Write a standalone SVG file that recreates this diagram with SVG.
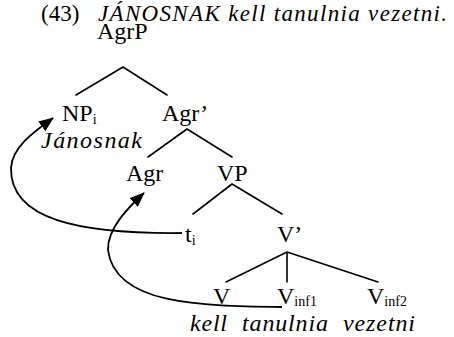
<svg xmlns="http://www.w3.org/2000/svg" width="454" height="337" viewBox="0 0 454 337">
<style>
.t{font-family:"Liberation Serif","Times New Roman",serif;font-size:24px;fill:#000}
.ttl{font-size:23px}
.it{font-style:italic}
.sub{font-size:14px}
.br{stroke:#000;stroke-width:1.6;fill:none;stroke-linecap:round}
.mv{stroke:#000;stroke-width:1.8;fill:none}
</style>
<defs>
<marker id="ah" viewBox="0 0 15 12" refX="14" refY="6" markerWidth="15" markerHeight="12" markerUnits="userSpaceOnUse" orient="auto">
<path d="M0,0 L15,6 L0,12 z" fill="#000"/>
</marker>
</defs>
<rect width="454" height="337" fill="#fff"/>
<g id="title">
<text class="t ttl" x="41" y="21">(43)</text>
<text class="t ttl it" x="98" y="21" textLength="349" lengthAdjust="spacing">JÁNOSNAK kell tanulnia vezetni.</text>
</g>
<g id="edges">
<path class="br" d="M123,67 L76,95 M123,67 L167,95"/>
<path class="br" d="M187,129 L148,157 M187,129 L232,157"/>
<path class="br" d="M232,184 L193,214 M232,184 L282,214"/>
<path class="br" d="M287,252 L226,282 M287,252 L287,282 M287,252 L378,282"/>
</g>
<g id="movement">
<path class="mv" d="M182,233 C80,234 10,220 11,168 C12,145 41,127 53,118" marker-end="url(#ah)"/>
<path class="mv" d="M282,307 C200,306 115,305 108,250 C107,228 130,206 144,193" marker-end="url(#ah)"/>
</g>
<g id="n-AgrP"><text class="t" x="97" y="39">AgrP</text></g>
<g id="n-NP"><text class="t" x="62" y="121">NP<tspan class="sub" dy="3">i</tspan></text>
<text class="t it" x="41" y="148" textLength="101" lengthAdjust="spacing">Jánosnak</text></g>
<g id="n-Agrbar"><text class="t" x="162" y="121">Agr’</text></g>
<g id="n-Agr"><text class="t" x="126" y="181">Agr</text></g>
<g id="n-VP"><text class="t" x="217" y="181">VP</text></g>
<g id="n-t"><text class="t" x="185" y="242">t<tspan class="sub" dy="3">i</tspan></text></g>
<g id="n-Vbar"><text class="t" x="277" y="242">V’</text></g>
<g id="n-V"><text class="t" x="213" y="304">V</text></g>
<g id="n-Vinf1"><text class="t" x="277" y="304">V<tspan class="sub" dy="2">inf1</tspan></text></g>
<g id="n-Vinf2"><text class="t" x="367" y="304">V<tspan class="sub" dy="2">inf2</tspan></text></g>
<g id="words">
<text class="t it" x="190" y="331" textLength="37" lengthAdjust="spacing">kell</text>
<text class="t it" x="242" y="331" textLength="86" lengthAdjust="spacing">tanulnia</text>
<text class="t it" x="343" y="331" textLength="72" lengthAdjust="spacing">vezetni</text>
</g>
</svg>
